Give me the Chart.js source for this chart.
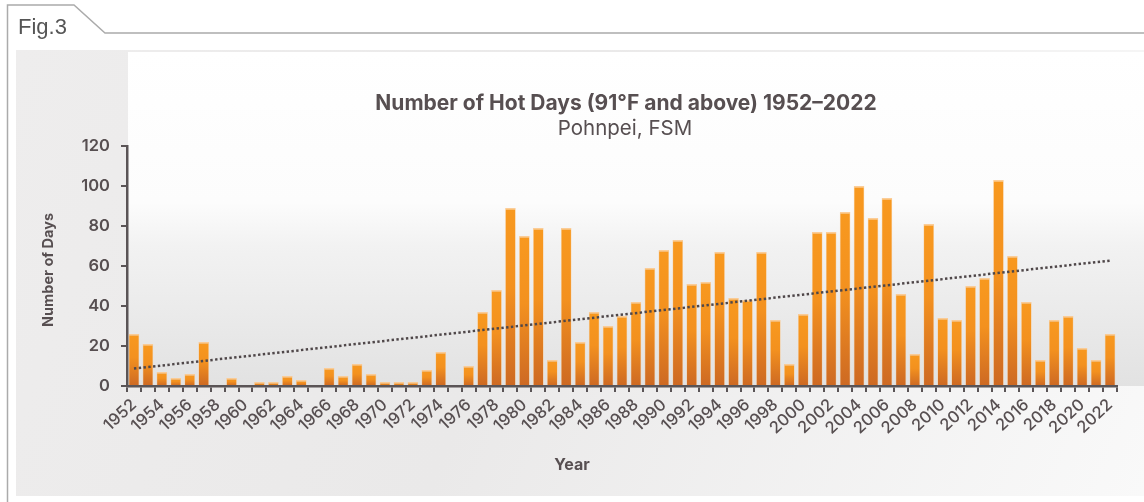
<!DOCTYPE html>
<html>
<head>
<meta charset="utf-8">
<script src="https://cdn.jsdelivr.net/npm/chart.js@4/dist/chart.umd.min.js"></script>
<style>
  html, body { margin: 0; padding: 0; background: #fff; }
  #wrap { position: relative; width: 1144px; height: 502px; }
</style>
</head>
<body>
<div id="wrap"><canvas id="chart" width="1144" height="502"></canvas></div>
<script>
// dati
const years = [];
for (let y = 1952; y <= 2022; y++) years.push(String(y));

const hotDays = [
  26, 21, 7, 4, 6, 22, 0, 4, 0, 2,      // 1952-1961
  2, 5, 3, 0, 9, 5, 11, 6, 2, 2,        // 1962-1971
  2, 8, 17, 0, 10, 37, 48, 89, 75, 79,  // 1972-1981
  13, 79, 22, 37, 30, 35, 42, 59, 68, 73, // 1982-1991
  51, 52, 67, 44, 43, 67, 33, 11, 36, 77, // 1992-2001
  77, 87, 100, 84, 94, 46, 16, 81, 34, 33, // 2002-2011
  50, 54, 103, 65, 42, 13, 33, 35, 19, 13, // 2012-2021
  26                                      // 2022
];

// linea di tendenza: estremi
const trendYears = ["1952", "2022"];
const trendValues = [8.7, 62.7];

const yTicks = [0, 20, 40, 60, 80, 100, 120];

const textColor = "#574f51";
const axisColor = "#5a5456";
const font = "Inter, Roboto, sans-serif";

// sfondo, cornice "Fig.3" e testi
const decor = {
  id: "decor",
  beforeDraw(chart) {
    const ctx = chart.ctx;
    ctx.save();
    ctx.fillStyle = "#fff";
    ctx.fillRect(0, 0, 1144, 502);

    // pannello grigio
    let g = ctx.createLinearGradient(16, 50, 1144, 496);
    g.addColorStop(0, "#eeeded");
    g.addColorStop(0.45, "#eae9e9");
    g.addColorStop(1, "#f9f9f9");
    ctx.fillStyle = g;
    ctx.fillRect(16, 50, 1128, 446);

    // area del grafico
    g = ctx.createLinearGradient(0, 52, 0, chart.chartArea.bottom);
    g.addColorStop(0, "#ffffff");
    g.addColorStop(0.45, "#fcfcfc");
    g.addColorStop(0.58, "#f2f2f2");
    g.addColorStop(1, "#e2e2e2");
    ctx.fillStyle = g;
    ctx.fillRect(128, 52, 1016, chart.chartArea.bottom - 52);

    // cornice
    ctx.strokeStyle = "#ababab";
    ctx.lineWidth = 1.5;
    ctx.beginPath();
    ctx.moveTo(7.5, 502);
    ctx.lineTo(7.5, 5);
    ctx.lineTo(74, 5);
    ctx.lineTo(105, 33);
    ctx.lineTo(1144, 33);
    ctx.stroke();

    ctx.fillStyle = "#555";
    ctx.font = "22px 'Liberation Sans', Arial, sans-serif";
    ctx.textAlign = "left";
    ctx.textBaseline = "alphabetic";
    ctx.fillText("Fig.3", 18, 34);
    ctx.restore();
  },
  afterDraw(chart) {
    const ctx = chart.ctx;
    ctx.save();
    ctx.fillStyle = textColor;
    ctx.textAlign = "center";
    ctx.textBaseline = "alphabetic";
    ctx.font = "bold 21px " + font;
    ctx.fillText("Number of Hot Days (91°F and above) 1952–2022", 626, 110);
    ctx.font = "20.5px " + font;
    ctx.fillText("Pohnpei, FSM", 625, 135);
    ctx.font = "bold 16px " + font;
    ctx.fillText("Year", 572, 470);

    ctx.translate(53, 270);
    ctx.rotate(-Math.PI / 2);
    ctx.font = "bold 14.5px " + font;
    ctx.fillText("Number of Days", 0, 0);
    ctx.restore();
  }
};

function barFill(c) {
  const chart = c.chart;
  if (!chart.chartArea || c.type !== "data") return "#f7941d";
  const ys = chart.scales.y;
  const top = ys.getPixelForValue(c.raw);
  const bottom = ys.getPixelForValue(0);
  if (bottom - top < 2) return "#f5921e";
  const g = chart.ctx.createLinearGradient(0, top, 0, bottom);
  g.addColorStop(0, "#f8991f");
  g.addColorStop(0.45, "#f3911f");
  g.addColorStop(1, "#cd6923");
  return g;
}

new Chart(document.getElementById("chart"), {
  data: {
    labels: years,
    datasets: [
      {
        type: "line",
        data: trendYears.map((x, i) => ({ x: x, y: trendValues[i] })),
        borderColor: "#4f4749",
        borderWidth: 2.5,
        borderDash: [2.4, 2.4],
        pointRadius: 0,
        fill: false,
        order: 0
      },
      {
        type: "bar",
        data: hotDays,
        backgroundColor: barFill,
        borderColor: "rgba(252, 200, 140, 0.9)",
        borderWidth: { top: 1.5, left: 0.6, right: 0.6, bottom: 0 },
        borderSkipped: false,
        categoryPercentage: 1,
        barPercentage: 0.76,
        order: 1
      }
    ]
  },
  options: {
    responsive: false,
    animation: false,
    layout: { padding: { left: 16, right: 27, top: 146, bottom: 26 } },
    plugins: {
      legend: { display: false },
      tooltip: { enabled: false },
      title: { display: false }
    },
    scales: {
      x: {
        type: "category",
        offset: true,
        afterFit: (s) => { s.height = 90; },
        border: { display: true, color: axisColor, width: 2.5 },
        grid: {
          display: true,
          offset: true,
          drawOnChartArea: false,
          drawTicks: true,
          tickLength: 6,
          color: axisColor,
          lineWidth: 2
        },
        ticks: {
          autoSkip: false,
          maxRotation: 43,
          minRotation: 43,
          padding: 3,
          color: textColor,
          font: { family: font, size: 16.5, weight: 500 },
          callback: function (v, i) { return i % 2 === 0 ? this.getLabelForValue(v) : ""; }
        }
      },
      y: {
        min: 0,
        max: 120,
        afterFit: (s) => { s.width = 111; },
        afterBuildTicks: (s) => { s.ticks = yTicks.map((v) => ({ value: v })); },
        border: { display: true, color: axisColor, width: 2.5 },
        grid: {
          display: true,
          drawOnChartArea: false,
          drawTicks: true,
          tickLength: 6,
          color: axisColor,
          lineWidth: 2
        },
        ticks: {
          padding: 11,
          color: textColor,
          font: { family: font, size: 16.5, weight: 600 }
        }
      }
    }
  },
  plugins: [decor]
});
</script>
</body>
</html>
